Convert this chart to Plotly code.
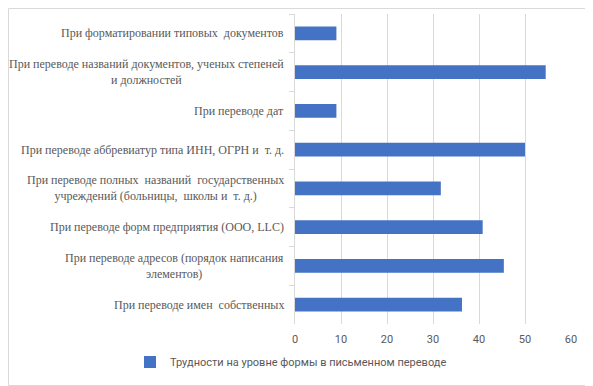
import plotly.graph_objects as go

categories = [
    "При форматировании типовых  документов",
    "При переводе названий документов, ученых степеней<br>и должностей",
    "При переводе дат",
    "При переводе аббревиатур типа ИНН, ОГРН и  т. д.",
    "При переводе полных  названий  государственных<br>учреждений (больницы,  школы и  т. д.)",
    "При переводе форм предприятия (ООО, LLC)",
    "При переводе адресов (порядок написания<br>элементов)",
    "При переводе имен  собственных",
]
values = [9, 54.5, 9, 50, 31.7, 40.8, 45.4, 36.3]
series_name = "Трудности на уровне формы в письменном переводе"
x_ticks = [0, 10, 20, 30, 40, 50, 60]

ids = [f"c{i}" for i in range(len(categories))]

# The page body has an 8px margin, so the figure is laid out 8px smaller
W, H = 585, 378
L, T, PW, PH = 287, 6, 276, 310

fig = go.Figure()
fig.add_trace(go.Bar(
    x=values, y=ids, orientation="h", name=series_name,
    marker=dict(color="#4472C4", line=dict(width=0)),
    showlegend=True,
))

for cid, lab in zip(ids, categories):
    fig.add_annotation(
        x=0, xref="paper", y=cid, yref="y", text=lab, showarrow=False,
        xanchor="right", yanchor="middle", align="center", xshift=-9,
        font=dict(family="Liberation Serif", size=12, color="#595959"),
    )

fig.update_layout(
    width=W, height=H,
    margin=dict(l=L, r=W - L - PW, t=T, b=H - T - PH, autoexpand=False),
    paper_bgcolor="white", plot_bgcolor="white",
    bargap=0.64,
    font=dict(family="Roboto", size=11, color="#595959"),
    legend=dict(orientation="h", x=(300 - 8 - 9 - L) / PW, xanchor="center",
                y=-(362 - 8 - (T + PH)) / PH, yanchor="middle",
                font=dict(family="Roboto", size=11, color="#595959"),
                itemwidth=30),
    xaxis=dict(range=[0, 60], tickvals=x_ticks, showgrid=True, gridcolor="#d9d9d9",
               gridwidth=1, zeroline=False, showline=False, ticks="",
               ticklabelstandoff=7, automargin=False,
               tickfont=dict(family="Roboto", size=11, color="#595959")),
    yaxis=dict(categoryorder="array", categoryarray=ids, autorange="reversed",
               showticklabels=False, showgrid=False, zeroline=False, automargin=False,
               showline=True, linecolor="#d9d9d9", linewidth=1,
               ticks="outside", tickson="boundaries", ticklen=5, tickcolor="#d9d9d9"),
    shapes=[dict(type="rect", xref="paper", yref="paper",
                 x0=(0.5 - L) / PW, x1=(W - 0.5 - L) / PW,
                 y0=-(H - 0.5 - T - PH) / PH, y1=(PH + T - 0.5) / PH,
                 line=dict(color="#d9d9d9", width=1), fillcolor="rgba(0,0,0,0)")],
)

fig.write_html("out.html")
